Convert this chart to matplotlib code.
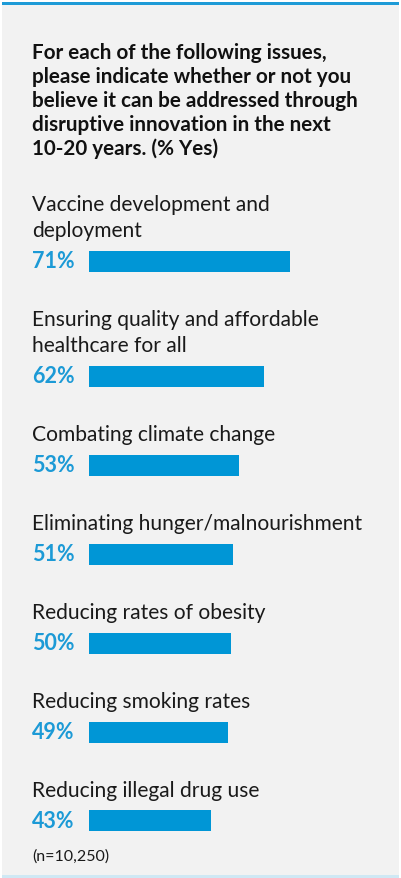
import matplotlib.pyplot as plt
from matplotlib.patches import Rectangle

plt.rcParams['font.family'] = ['Lato', 'DejaVu Sans']

title = ('For each of the following issues,\n'
         'please indicate whether or not you\n'
         'believe it can be addressed through\n'
         'disruptive innovation in the next\n'
         '10-20 years. (% Yes)')
issues = ['Vaccine development and\ndeployment',
          'Ensuring quality and affordable\nhealthcare for all',
          'Combating climate change',
          'Eliminating hunger/malnourishment',
          'Reducing rates of obesity',
          'Reducing smoking rates',
          'Reducing illegal drug use']
yes_pct = [71, 62, 53, 51, 50, 49, 43]
note = '(n=10,250)'

W, H = 401, 879
BG = '#f2f2f2'
BLUE = '#0096d6'
TEXT_BLUE = '#1c9ad6'

fig = plt.figure(figsize=(W / 100, H / 100), dpi=100)
fig.patch.set_facecolor('white')

# background panel in pixel coordinates (y grows downward)
bg = fig.add_axes([0, 0, 1, 1])
bg.set_xlim(0, W)
bg.set_ylim(H, 0)
bg.axis('off')
bg.add_patch(Rectangle((1.5, 3), W - 4, H - 4.5, facecolor=BG, edgecolor='none'))
bg.add_patch(Rectangle((1.5, 3), W - 4, 2.5, facecolor='#1e9bd7', edgecolor='none'))
bg.add_patch(Rectangle((1.5, H - 2.5), W - 4, 2.5, facecolor='#cfe8f4', edgecolor='none'))

bg.text(32, 43, title, fontsize=14.9, fontweight='bold', color='#111111',
        va='top', ha='left', linespacing=1.24)

# bars live on their own axes: x in percent, y in pixels
bar_left, px_per_pct = 89, 2.83
bars = fig.add_axes([bar_left / W, 0, 100 * px_per_pct / W, 1])
bars.set_xlim(0, 100)
bars.set_ylim(H, 0)
bars.axis('off')

y = 205
for issue, pct in zip(issues, yes_pct):
    lines = issue.split('\n')
    for ln in lines:
        bg.text(32, y, ln, fontsize=15.1, color='#1a1a1a', va='center', ha='left')
        y += 26
    y += 31 - 26
    bars.barh(y, pct, height=21, color=BLUE)
    bg.text(32, y, f'{pct}%', fontsize=15.5, fontweight='bold', color=TEXT_BLUE,
            va='center', ha='left')
    y += 58

bg.text(32, 857, note, fontsize=11.5, color='#1a1a1a', va='center', ha='left')

fig.savefig('out.png', dpi=100, facecolor=fig.get_facecolor())
